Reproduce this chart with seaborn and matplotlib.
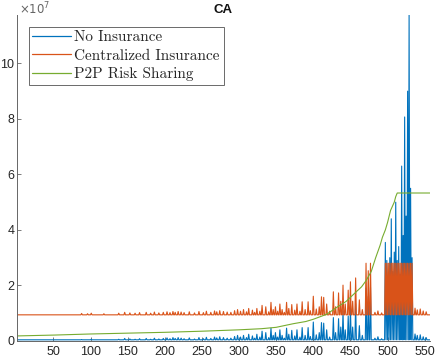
import matplotlib
matplotlib.use('Agg')
import matplotlib.pyplot as plt
import seaborn as sns
import numpy as np
import pandas as pd

# values in units of 1e7
n_obs = 557
no_ins_base = 0.04
central_base = 0.94

spike_x = [88, 96, 101, 118, 138, 146, 153, 160, 166, 175, 181, 186, 192, 198,
           203, 207, 211, 214, 218, 222, 226, 233, 240, 246, 252, 256, 262, 267,
           270, 274, 279, 284, 289, 294, 298, 302, 306, 310, 313, 318, 321, 324,
           328, 331, 336, 340, 343, 346, 349, 352, 355, 358, 361, 364, 367, 371,
           375, 378, 382, 385, 389, 393, 396, 400, 404, 408, 411, 414, 418, 422,
           427, 430, 434, 437, 440, 443, 447, 450, 453, 457, 462, 466, 471, 474,
           477, 483, 487, 492,
           497, 499, 501, 503, 505, 507, 509, 511, 513, 515, 517, 519, 521, 523,
           525, 527, 529, 531, 533,
           537, 540, 544, 548, 552]
no_ins_peak = [0.05, 0.04, 0.06, 0.04, 0.06, 0.09, 0.07, 0.06, 0.08, 0.09, 0.06,
               0.10, 0.07, 0.09, 0.11, 0.08, 0.12, 0.09, 0.12, 0.10, 0.08, 0.11,
               0.07, 0.12, 0.08, 0.13, 0.09, 0.14, 0.11, 0.15, 0.12, 0.10, 0.10,
               0.16, 0.20, 0.14, 0.20, 0.12, 0.24, 0.18, 0.10, 0.24, 0.14, 0.35,
               0.30, 0.12, 0.46, 0.20, 0.30, 0.14, 0.40, 0.20, 0.10, 0.46, 0.24,
               0.38, 0.18, 0.40, 0.14, 0.48, 0.20, 0.48, 0.16, 0.68, 0.22, 0.30,
               0.66, 0.64, 0.40, 0.14, 0.84, 0.30, 0.80, 0.50, 1.08, 0.40, 0.90,
               1.20, 0.50, 1.34, 0.55, 0.20, 1.90, 1.60, 1.93, 0.10, 0.15, 0.08,
               3.55, 2.90, 2.20, 3.00, 4.40, 2.50, 3.20, 5.00, 2.90, 3.40, 2.40,
               6.30, 3.80, 8.07, 4.50, 9.00, 11.74, 5.50, 3.00,
               0.25, 0.20, 0.22, 0.15, 0.12]
central_peak = [0.99, 0.98, 1.00, 0.98, 1.00, 1.03, 1.01, 1.00, 1.02, 1.03, 1.00,
                1.04, 1.01, 1.03, 1.05, 1.02, 1.06, 1.03, 1.06, 1.04, 1.02, 1.05,
                1.01, 1.06, 1.02, 1.07, 1.03, 1.08, 1.05, 1.09, 1.06, 1.04, 1.03,
                1.09, 1.13, 1.07, 1.13, 1.05, 1.17, 1.11, 1.03, 1.17, 1.07, 1.28,
                1.23, 1.05, 1.39, 1.13, 1.23, 1.07, 1.33, 1.13, 1.03, 1.39, 1.17,
                1.31, 1.11, 1.33, 1.07, 1.41, 1.13, 1.41, 1.09, 1.61, 1.15, 1.23,
                1.59, 1.57, 1.33, 1.07, 1.77, 1.23, 1.73, 1.43, 2.01, 1.33, 1.83,
                2.13, 1.43, 2.27, 1.48, 1.13, 2.80, 2.53, 2.80, 1.03, 1.08, 1.01,
                2.80, 2.80, 2.80, 2.80, 2.80, 2.80, 2.80, 2.80, 2.80, 2.80, 2.80,
                2.80, 2.80, 2.80, 2.80, 2.80, 2.80, 2.80, 2.80,
                1.18, 1.12, 1.15, 1.08, 1.05]

p2p_x = [1, 50, 100, 150, 200, 250, 300, 330, 350, 373, 390, 400, 410, 418,
         431, 444, 457, 465, 471, 478, 484, 490, 493, 497, 500, 504, 509, 511,
         513, 557]
p2p_y = [0.18, 0.21, 0.25, 0.28, 0.31, 0.35, 0.40, 0.44, 0.49, 0.62, 0.70,
         0.78, 0.88, 0.96, 1.20, 1.42, 1.75, 1.95, 2.17, 2.50, 3.00, 3.45,
         3.73, 4.00, 4.27, 4.70, 5.00, 5.20, 5.33, 5.33]

labels = ['No Insurance', 'Centralized Insurance', 'P2P Risk Sharing']
colors = ['#0072BD', '#D95319', '#77AC30']

idx = np.arange(1, n_obs + 1)
no_ins = np.full(n_obs, no_ins_base)
no_ins[np.array(spike_x) - 1] = no_ins_peak
central = np.full(n_obs, central_base)
central[np.array(spike_x) - 1] = central_peak

df_no = pd.DataFrame({'t': idx, 'v': no_ins})
df_ci = pd.DataFrame({'t': idx, 'v': central})
df_p2p = pd.DataFrame({'t': p2p_x, 'v': p2p_y})

sns.set_theme(style='white')
plt.rcParams['font.family'] = ['Liberation Sans', 'DejaVu Sans']

fig = plt.figure(figsize=(4.36, 3.6), dpi=100)
ax = fig.add_axes([0.039, 0.053, 0.947, 0.905])

sns.lineplot(data=df_no, x='t', y='v', ax=ax, color=colors[0], lw=0.8, label=labels[0])
sns.lineplot(data=df_ci, x='t', y='v', ax=ax, color=colors[1], lw=0.8, label=labels[1])
sns.lineplot(data=df_p2p, x='t', y='v', ax=ax, color=colors[2], lw=0.8, label=labels[2])

ax.set_xlim(1, n_obs)
ax.set_ylim(0, max(no_ins_peak))
ax.set_xticks(np.arange(50, 551, 50))
ax.set_yticks(np.arange(0, 11, 2))
ax.set_xlabel('')
ax.set_ylabel('')
ax.set_title('CA', fontsize=9.5, fontweight='bold', color='#111111', pad=1.5)
ax.text(0.005, 1.004, r'$\times10^7$', transform=ax.transAxes, fontsize=8.5,
        color='#666666', ha='left', va='baseline')

for s in ['top', 'right']:
    ax.spines[s].set_visible(False)
for s in ['left', 'bottom']:
    ax.spines[s].set_color('#666666')
    ax.spines[s].set_linewidth(0.7)
ax.tick_params(direction='in', length=3, width=0.6, color='#666666',
               labelsize=9, labelcolor='#262626', left=True, bottom=True)
ax.tick_params(axis='y', pad=2)
ax.tick_params(axis='x', pad=4)

leg = ax.legend(loc='upper left', bbox_to_anchor=(0.028, 0.964), frameon=True,
                fancybox=False, prop={'family': 'cmr10', 'size': 11},
                handlelength=2.5, borderpad=0.25, labelspacing=0.3,
                handletextpad=0.25, borderaxespad=0)
leg.get_frame().set_edgecolor('#444444')
leg.get_frame().set_linewidth(0.7)
for line in leg.get_lines():
    line.set_linewidth(0.9)

fig.savefig('out.png', dpi=100)
